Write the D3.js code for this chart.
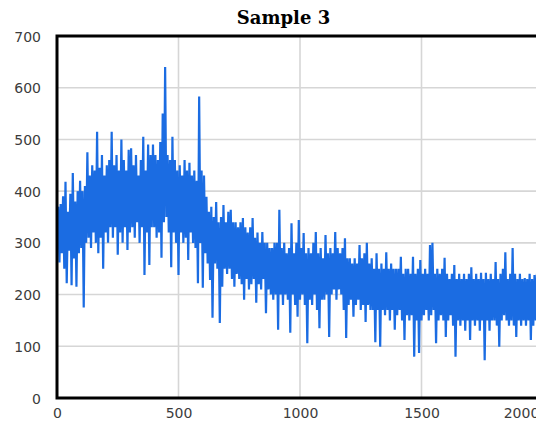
<!DOCTYPE html>
<html>
<head>
<meta charset="utf-8">
<script src="https://cdn.jsdelivr.net/npm/d3@7"></script>
<style>
html,body{margin:0;padding:0;background:#fff;overflow:hidden;}
svg{display:block;}
</style>
</head>
<body>
<div id="chart"></div>
<script>
const title = "Sample 3";
const xTicks = [0, 500, 1000, 1500, 2000];
const yTicks = [0, 100, 200, 300, 400, 500, 600, 700];
const xStep = 5;
// signal values, one every 5 units from x = 0
const values = [
  300,370,262,375,280,390,250,418,222,360,285,395,218,435,270,380,215,400,280,420,
  290,400,175,410,300,475,310,430,290,450,320,440,300,515,280,445,310,470,250,430,
  320,450,300,460,330,515,310,450,330,470,277,440,320,500,300,460,330,440,286,480,
  320,483,330,450,310,470,340,430,300,460,330,505,238,440,320,490,257,470,330,490,
  330,470,310,460,320,495,271,550,340,640,350,470,320,460,253,505,320,460,300,440,
  238,450,320,430,300,460,310,440,267,455,320,430,300,440,290,420,222,583,300,440,
  213,430,280,389,260,360,228,370,155,350,260,379,250,340,145,350,215,373,250,340,
  240,360,250,364,230,340,215,340,240,330,230,340,220,348,190,330,230,320,210,330,
  220,348,230,310,184,320,220,300,210,321,230,300,164,300,210,290,200,290,190,300,
  200,300,132,364,200,290,180,300,200,280,190,290,126,338,200,280,180,300,157,344,
  190,290,200,319,180,280,106,290,190,280,180,300,200,321,170,280,135,290,190,270,
  190,315,200,280,118,290,200,280,210,321,190,290,210,280,200,290,170,309,116,270,
  180,270,190,260,157,270,180,260,190,296,170,270,180,280,147,300,180,260,170,270,
  170,250,108,280,170,250,99,260,170,250,160,282,170,250,150,260,170,250,132,250,
  160,250,170,273,150,240,112,250,160,250,150,240,160,273,80,240,150,250,87,267,
  150,240,160,250,170,240,150,296,160,300,170,240,106,250,150,240,160,250,150,271,
  118,240,150,230,160,240,140,257,80,230,150,240,140,230,150,240,130,230,150,240,
  112,253,150,230,140,240,150,230,130,242,150,230,73,242,150,230,130,240,150,230,
  150,263,140,230,99,240,150,250,160,282,150,230,140,240,150,290,140,240,118,230,
  150,240,140,230,150,232,140,230,150,240,112,230,140,238,150,240,130,230,150,240
];

const W = 560, H = 425;
const svg = d3.select("#chart").append("svg").attr("width", W).attr("height", H);

const x = d3.scaleLinear().domain([0, 2000]).range([57, 543]);
const y = d3.scaleLinear().domain([0, 700]).range([398, 36]);

// gridlines
svg.append("g").selectAll("line").data(yTicks.filter(d => d > 0 && d < 700)).join("line")
  .attr("x1", x(0)).attr("x2", x(2000)).attr("y1", d => y(d)).attr("y2", d => y(d))
  .attr("stroke", "#d6d6d6").attr("stroke-width", 1.6);
svg.append("g").selectAll("line").data(xTicks.filter(d => d > 0 && d < 2000)).join("line")
  .attr("x1", d => x(d)).attr("x2", d => x(d)).attr("y1", y(700)).attr("y2", y(0))
  .attr("stroke", "#d6d6d6").attr("stroke-width", 1.6);

// clip
svg.append("clipPath").attr("id", "clip").append("rect")
  .attr("x", x(0)).attr("y", y(700)).attr("width", x(2000) - x(0)).attr("height", y(0) - y(700));

const data = values.map((v, i) => [i * xStep, v]);
svg.append("path").datum(data)
  .attr("clip-path", "url(#clip)")
  .attr("fill", "none")
  .attr("stroke", "#1b6ce2")
  .attr("stroke-width", 2.2)
  .attr("stroke-linejoin", "miter")
  .attr("d", d3.line().x(d => x(d[0])).y(d => y(d[1])));

// frame
svg.append("rect")
  .attr("x", x(0)).attr("y", y(700)).attr("width", x(2000) - x(0)).attr("height", y(0) - y(700))
  .attr("fill", "none").attr("stroke", "#000").attr("stroke-width", 3);

// axes
const yAxis = svg.append("g").attr("transform", `translate(${x(0) - 16},0)`)
  .call(d3.axisLeft(y).tickValues(yTicks).tickSize(0).tickPadding(0));
const xAxis = svg.append("g").attr("transform", `translate(0,${y(0) + 9})`)
  .call(d3.axisBottom(x).tickValues(xTicks).tickSize(0).tickPadding(0).tickFormat(d3.format("d")));
[yAxis, xAxis].forEach(a => {
  a.select(".domain").remove();
  a.selectAll("text").attr("font-family", "DejaVu Sans, sans-serif")
    .attr("font-size", 14).attr("fill", "#3c3c3c");
});
yAxis.selectAll("text").attr("dy", "0.36em");
xAxis.selectAll("text").attr("dy", "0.8em");
// last label sits left of its tick, as in the original
xAxis.selectAll(".tick").filter(d => d === 2000).select("text").attr("dx", -22);

// title
svg.append("text").attr("x", 283.5).attr("y", 24).attr("text-anchor", "middle")
  .attr("font-family", "DejaVu Serif, serif").attr("font-weight", "bold")
  .attr("font-size", 18).attr("fill", "#000").text(title);
</script>
</body>
</html>
